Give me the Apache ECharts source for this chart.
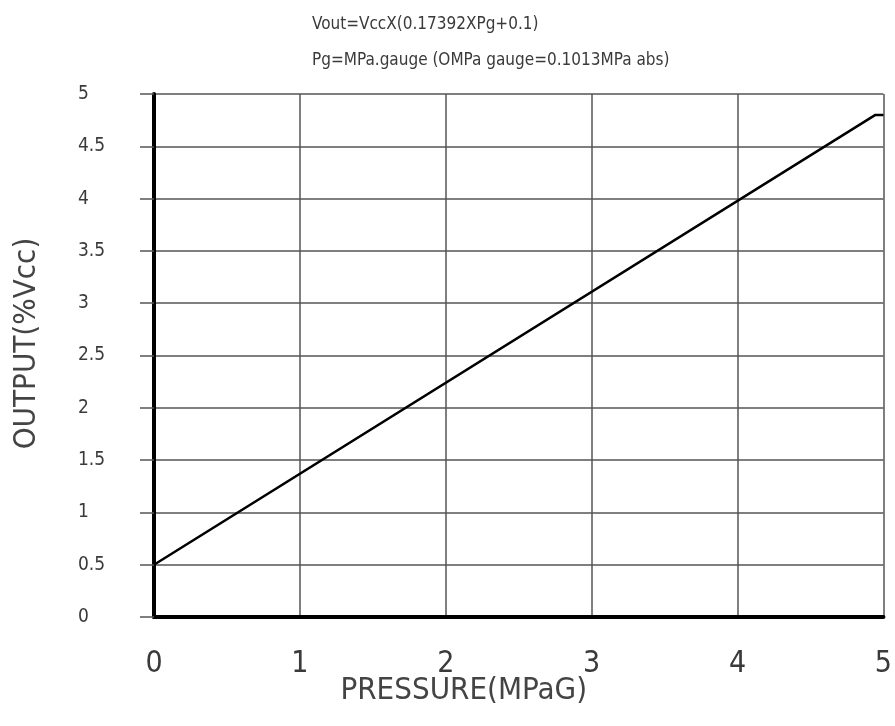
<!DOCTYPE html>
<html>
<head>
<meta charset="utf-8">
<script src="https://cdn.jsdelivr.net/npm/echarts@6/dist/echarts.min.js"></script>
<style>
  html, body { margin: 0; padding: 0; background: #fff; }
  #main { width: 895px; height: 726px; }
</style>
</head>
<body>
<div id="main"></div>
<script>
// output curve
var pressure = [0, 4.945, 5];
var output = [0.5, 4.8, 4.8];
var titleLines = ['Vout=VccX(0.17392XPg+0.1)', 'Pg=MPa.gauge (OMPa gauge=0.1013MPa abs)'];

var font = '"Liberation Sans Narrow", "DejaVu Sans Condensed", sans-serif';
var txt = '#3a3a3a';

var chart = echarts.init(document.getElementById('main'));
chart.setOption({
    animation: false,
    title: [
        { text: titleLines[0], left: 307, top: 11, textStyle: { fontFamily: font, fontSize: 17, fontWeight: 'normal', color: txt } },
        { text: titleLines[1], left: 307, top: 47, textStyle: { fontFamily: font, fontSize: 17, fontWeight: 'normal', color: txt } }
    ],
    grid: { left: 154, right: 11, top: 94, bottom: 109 },
    xAxis: {
        type: 'value', min: 0, max: 5, interval: 1,
        name: 'PRESSURE(MPaG)', nameLocation: 'middle', nameGap: 58, nameMoveOverlap: false,
        nameTextStyle: { fontFamily: font, fontSize: 31, color: '#444', padding: [0, 110, 0, 0] },
        axisLine: { lineStyle: { color: '#000', width: 4 } },
        axisTick: { show: false },
        axisLabel: { margin: 32, fontFamily: font, fontSize: 30, color: txt },
        splitLine: { show: true, lineStyle: { color: '#555', width: 1.5 } }
    },
    yAxis: {
        type: 'value', min: 0, max: 5, interval: 0.5,
        name: 'OUTPUT(%Vcc)', nameLocation: 'middle', nameGap: 112,
        nameTextStyle: { fontFamily: font, fontSize: 31, color: '#444', padding: [0, 0, 0, 24] },
        axisLine: { show: true, lineStyle: { color: '#000', width: 4 } },
        axisTick: { show: true, length: 14, lineStyle: { color: '#555', width: 1.5 } },
        axisLabel: { margin: 76, align: 'left', fontFamily: font, fontSize: 19, color: txt },
        splitLine: { show: true, lineStyle: { color: '#555', width: 1.5 } }
    },
    series: [{
        type: 'line',
        data: pressure.map(function (p, i) { return [p, output[i]]; }),
        showSymbol: false,
        lineStyle: { color: '#000', width: 2.5 }
    }]
});
</script>
</body>
</html>
